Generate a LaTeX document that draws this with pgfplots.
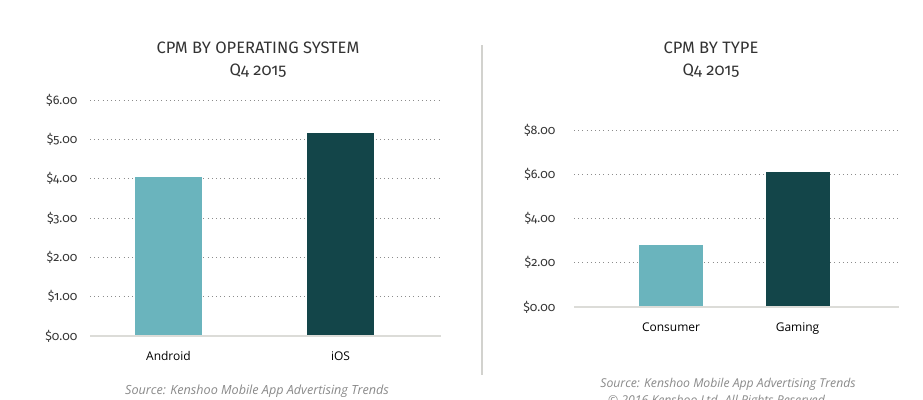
\documentclass[border=0pt]{standalone}
\usepackage{pgfplots}
\pgfplotsset{compat=1.18}
\usepackage{fontspec}
\setmainfont{Open Sans}
\newfontfamily\titlefont[Numbers=OldStyle]{Fira Sans}
\newfontfamily\tickfont[Numbers=OldStyle]{Fira Sans}
\definecolor{cLight}{HTML}{6AB4BD}
\definecolor{cDark}{HTML}{134549}
\definecolor{gridc}{HTML}{8C8C8C}
\definecolor{basec}{HTML}{DCDCD8}
\definecolor{divc}{HTML}{D2D2CE}
\definecolor{titlec}{HTML}{333333}
\definecolor{srcc}{HTML}{8A8A8A}
\pgfplotsset{
  cpm/.style={
    scale only axis,
    axis line style={draw=none},
    major tick length=0pt,
    tick style={draw=none},
    ymin=0,
    ymajorgrids,
    grid style={gridc, line width=0.8pt, dash pattern=on 0.8pt off 3.4pt},
    yticklabel={\$\pgfmathprintnumber[fixed,fixed zerofill,precision=2]{\tick}},
    /pgf/number format/assume math mode=true,
    yticklabel style={font=\tickfont\fontsize{12.4}{14}\selectfont, text=titlec},
    xticklabel style={font=\fontsize{12}{14}\selectfont, text=black, yshift=-12pt},
    xtick={0,1},
    clip=false,
  }
}
\begin{document}
\begin{tikzpicture}[x=1pt,y=1pt]
\useasboundingbox (0,0) rectangle (923,-399);
\clip (0,0) rectangle (923,-399);
\fill[white] (0,0) rectangle (923,-399);
\draw[line width=2pt, divc] (482,-45) -- (482,-375);
% titles
\node[font=\titlefont\fontsize{16.5}{18}\selectfont, text=titlec] at (258,-48) {CPM BY OPERATING SYSTEM};
\node[font=\titlefont\fontsize{16.5}{18}\selectfont, text=titlec] at (258,-71) {Q4 2015};
\node[font=\titlefont\fontsize{16.5}{18}\selectfont, text=titlec] at (711,-48) {CPM BY TYPE};
\node[font=\titlefont\fontsize{16.5}{18}\selectfont, text=titlec] at (711,-71) {Q4 2015};
% sources
\node[font=\itshape\fontsize{12.6}{14}\selectfont, text=srcc] at (257,-391) {Source: Kenshoo Mobile App Advertising Trends};
\node[font=\itshape\fontsize{12.2}{14}\selectfont, text=srcc] at (728,-384) {Source: Kenshoo Mobile App Advertising Trends};
\node[font=\itshape\fontsize{12.2}{14}\selectfont, text=srcc] at (718,-401) {\textcopyright{} 2016 Kenshoo Ltd. All Rights Reserved.};
% left chart
\begin{axis}[cpm,
  at={(90pt,-336pt)}, anchor=south west,
  width=351pt, height=236pt,
  ymax=6, ytick={0,1,2,3,4,5,6},
  xmin=-0.456, xmax=1.584,
  xticklabels={Android,iOS},
  yticklabel style={xshift=-9pt},
]
\addplot[ybar, bar width=67pt, bar shift=0pt, fill=cLight, draw=none] coordinates {(0,4.05)};
\addplot[ybar, bar width=67pt, bar shift=0pt, fill=cDark, draw=none] coordinates {(1,5.17)};
\draw[basec, line width=2pt] (rel axis cs:0,0) -- (rel axis cs:1,0);
\end{axis}
% right chart
\begin{axis}[cpm,
  at={(574pt,-307pt)}, anchor=south west,
  width=325pt, height=177pt,
  ymax=8, ytick={0,2,4,6,8},
  xmin=-0.767, xmax=1.802,
  xticklabels={Consumer,Gaming},
  yticklabel style={xshift=-15pt},
]
\addplot[ybar, bar width=64pt, bar shift=0pt, fill=cLight, draw=none] coordinates {(0,2.82)};
\addplot[ybar, bar width=64pt, bar shift=0pt, fill=cDark, draw=none] coordinates {(1,6.08)};
\draw[basec, line width=2pt] (rel axis cs:0,0) -- (rel axis cs:1,0);
\end{axis}
\end{tikzpicture}
\end{document}
